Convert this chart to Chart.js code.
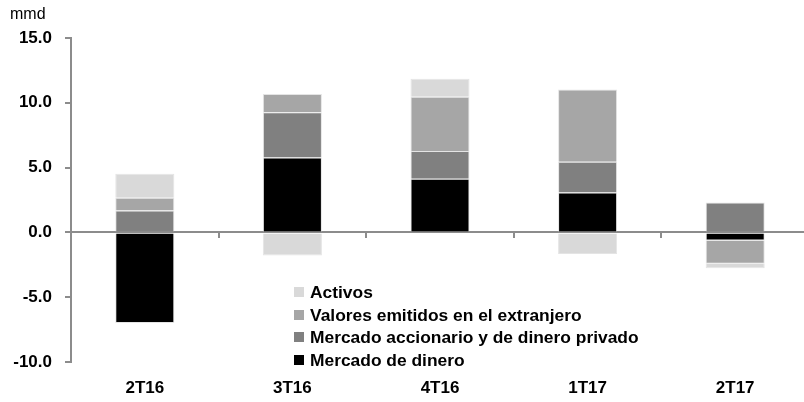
<!DOCTYPE html>
<html>
<head>
<meta charset="utf-8">
<script src="https://cdn.jsdelivr.net/npm/chart.js@4"></script>
<style>
  html, body { margin: 0; padding: 0; background: #fff; overflow: hidden; }
  #wrap { position: relative; width: 812px; height: 402px; }
  #unit { position: absolute; left: 10px; top: 6px; font: 16px/16px "Liberation Sans", Arial, sans-serif; color: #000; }
  #legend { position: absolute; left: 294px; top: 281px; font: bold 17.4px/22.7px "Liberation Sans", Arial, sans-serif; color: #000; }
  #legend .sw { display: inline-block; width: 10px; height: 10px; margin-right: 6px; vertical-align: 1px; }
</style>
</head>
<body>
<div id="wrap">
  <canvas id="chart" width="812" height="402"></canvas>
  <div id="unit">mmd</div>
  <div id="legend"></div>
</div>
<script>
// quarters
const quarters = ["2T16", "3T16", "4T16", "1T17", "2T17"];

// series, in miles de millones de dólares
const mercadoDinero = [-6.99, 5.77, 4.14, 3.08, -0.62];
const mercadoAccionario = [1.69, 3.50, 2.15, 2.38, 2.31];
const valoresExtranjero = [0.98, 1.40, 4.18, 5.57, -1.79];
const activos = [1.86, -1.79, 1.39, -1.66, -0.36];

const yTicks = [-10, -5, 0, 5, 10, 15];

const axisGray = "#8c8c8c";
const bold17 = { family: "'Liberation Sans', Arial, sans-serif", size: 17, weight: "bold" };

const datasets = [
    { label: "Mercado de dinero", data: mercadoDinero, backgroundColor: "#000000" },
    { label: "Mercado accionario y de dinero privado", data: mercadoAccionario, backgroundColor: "#808080" },
    { label: "Valores emitidos en el extranjero", data: valoresExtranjero, backgroundColor: "#a6a6a6" },
    { label: "Activos", data: activos, backgroundColor: "#d9d9d9" }
].map(d => Object.assign(d, {
    borderColor: "rgba(225,225,225,0.9)",
    borderWidth: 1,
    barPercentage: 0.4,
    categoryPercentage: 1.0
}));

const ctx = document.getElementById("chart").getContext("2d");
const chart = new Chart(ctx, {
    type: "bar",
    data: { labels: quarters, datasets: datasets },
    options: {
        responsive: false,
        animation: false,
        layout: { padding: { top: 38, right: 3, left: 0, bottom: 0 } },
        plugins: { legend: { display: false }, tooltip: { enabled: false } },
        scales: {
            x: {
                stacked: true,
                grid: { display: false, drawTicks: false },
                border: { display: false },
                ticks: { color: "#000", font: bold17, padding: 16, maxRotation: 0 },
                afterFit: (s) => { s.height = 40; }
            },
            x2: {
                type: "category",
                labels: quarters,
                position: { y: 0 },
                offset: true,
                grid: { offset: true, drawOnChartArea: false, drawTicks: true, tickLength: 5, color: axisGray, lineWidth: 2 },
                border: { display: true, color: axisGray, width: 2 },
                ticks: { display: false }
            },
            y: {
                stacked: true,
                min: yTicks[0],
                max: yTicks[yTicks.length - 1],
                afterBuildTicks: (s) => { s.ticks = yTicks.map(v => ({ value: v })); },
                grid: { drawOnChartArea: false, drawTicks: true, tickLength: 6, color: axisGray, lineWidth: 2 },
                border: { display: true, color: axisGray, width: 2 },
                ticks: {
                    color: "#000",
                    font: bold17,
                    padding: 13,
                    callback: (v) => Number(v).toFixed(1)
                },
                afterFit: (s) => { s.width = 71; }
            }
        }
    }
});

// legend drawn from the datasets, top entry = last dataset
const legend = document.getElementById("legend");
datasets.slice().reverse().forEach(d => {
    const row = document.createElement("div");
    row.innerHTML = '<span class="sw" style="background:' + d.backgroundColor + '"></span>' + d.label;
    legend.appendChild(row);
});
</script>
</body>
</html>
